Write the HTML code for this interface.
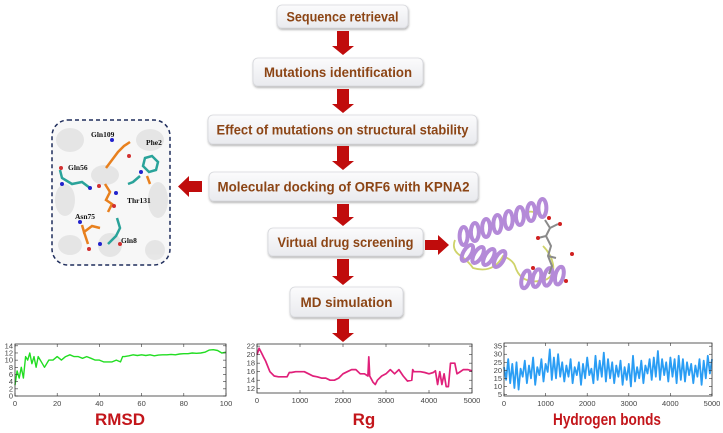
<!DOCTYPE html>
<html><head><meta charset="utf-8"><style>
html,body{margin:0;padding:0;background:#fff;width:723px;height:433px;overflow:hidden}
svg{display:block;font-family:"Liberation Sans",sans-serif}
</style></head><body>
<svg id="root" width="723" height="433" viewBox="0 0 723 433">
<defs>
<linearGradient id="bx" x1="0" y1="0" x2="0" y2="1"><stop offset="0" stop-color="#fbfbfc"/><stop offset="1" stop-color="#e9eaee"/></linearGradient>
<filter id="sh" x="-10%" y="-20%" width="120%" height="160%"><feDropShadow dx="0.5" dy="1.5" stdDeviation="1" flood-color="#000" flood-opacity="0.3"/></filter>
</defs>
<g id="boxes"></g>
<g id="arrows"></g>
<!-- inset docking image -->
<g>
<rect x="52" y="120" width="118" height="145" rx="16" fill="#f7f7f7" stroke="#1f2d5c" stroke-width="1.5" stroke-dasharray="4,3"/>
<g fill="#e4e4e4" opacity="0.9">
<ellipse cx="70" cy="140" rx="14" ry="12"/><ellipse cx="150" cy="140" rx="14" ry="11"/><ellipse cx="65" cy="200" rx="10" ry="16"/>
<ellipse cx="158" cy="200" rx="10" ry="18"/><ellipse cx="110" cy="245" rx="12" ry="12"/><ellipse cx="155" cy="250" rx="10" ry="10"/>
<ellipse cx="70" cy="245" rx="12" ry="10"/><ellipse cx="105" cy="175" rx="14" ry="10"/>
</g>
<g stroke="#e8801e" stroke-width="2.5" fill="none">
<polyline points="106,168 112,160 118,152 124,146 130,142"/><polyline points="150,184 147,176"/>
<polyline points="105,184 110,192 106,200 112,204 108,212"/>
<polyline points="82,225 84,232 92,226 100,228"/><polyline points="84,232 88,244"/>
</g>
<g stroke="#2aa39a" stroke-width="2.5" fill="none">
<polyline points="60,170 62,178 72,184 82,182 90,188"/><polygon points="145,158 152,156 158,162 156,170 149,172 143,166"/>
<polyline points="140,176 133,182 128,184"/><polyline points="117,218 120,228 116,236 108,244"/>
</g>
<g fill="#2222cc"><circle cx="62" cy="184" r="2"/><circle cx="90" cy="188" r="2"/><circle cx="112" cy="140" r="2"/><circle cx="141" cy="172" r="2"/><circle cx="80" cy="222" r="2"/><circle cx="100" cy="244" r="2"/><circle cx="116" cy="193" r="2"/></g>
<g fill="#d13030"><circle cx="61" cy="168" r="2"/><circle cx="99" cy="186" r="2"/><circle cx="129" cy="156" r="2"/><circle cx="114" cy="206" r="2"/><circle cx="89" cy="249" r="2"/><circle cx="120" cy="244" r="2"/></g>
<g font-family="Liberation Serif,serif" font-weight="bold" font-size="7.5" fill="#111">
<text x="91" y="137">Gln109</text><text x="146" y="145">Phe2</text><text x="68" y="170">Gln56</text>
<text x="127" y="203">Thr131</text><text x="75" y="219">Asn75</text><text x="121" y="243">Gln8</text>
</g>
</g>
<!-- protein structure -->
<g>
<g fill="none" stroke="#cfd36a" stroke-width="1.8">
<path d="M527,212 q10,-2 14,6"/><path d="M455,240 q-4,10 6,16 q8,6 12,12 q20,6 30,-12 q10,4 12,10 q6,20 30,14 q10,-4 8,-16 q-2,-10 -10,-18"/>
</g>
<g id="helix" fill="none" stroke="#b48ad8" stroke-width="4"></g>
<g stroke="#8a8a8a" stroke-width="2" fill="none">
<path d="M545,220 l5,8 l-4,8 l5,10 l-3,10 l4,10 l-3,8"/><path d="M550,228 l8,-4 M546,236 l-8,2 M548,256 l8,2"/>
</g>
<g fill="#d02020"><circle cx="549" cy="218" r="2"/><circle cx="560" cy="224" r="2"/><circle cx="538" cy="238" r="2"/><circle cx="572" cy="254" r="2"/><circle cx="533" cy="268" r="2"/><circle cx="566" cy="281" r="2"/></g>
</g>
<g id="charts"></g>
<g font-family="Liberation Sans,sans-serif" font-weight="bold" fill="#c3161b" font-size="17" text-anchor="middle">
<text x="120" y="425">RMSD</text>
<text x="364" y="425">Rg</text>
<text x="607" y="425" textLength="108" lengthAdjust="spacingAndGlyphs">Hydrogen bonds</text>
</g>
</svg>
<script>
const NS="http://www.w3.org/2000/svg";
function mk(tag,attrs,parent){const e=document.createElementNS(NS,tag);for(const k in attrs)e.setAttribute(k,attrs[k]);parent.appendChild(e);return e;}

// helix ribbons (decorative)
const hx=document.getElementById('helix');
function helix(x1,y1,x2,y2,n){
  const ang=Math.atan2(y2-y1,x2-x1)*180/Math.PI;
  for(let i=0;i<n;i++){const t=(i+0.5)/n;mk('ellipse',{cx:x1+(x2-x1)*t,cy:y1+(y2-y1)*t,rx:4,ry:9,transform:`rotate(${ang+20} ${x1+(x2-x1)*t} ${y1+(y2-y1)*t})`},hx);}
}
helix(458,238,548,206,8);
helix(462,252,505,260,4);
helix(520,280,565,275,4);

// flow boxes
const boxLabels=["Sequence retrieval","Mutations identification","Effect of mutations on structural stability","Molecular docking of ORF6 with KPNA2","Virtual drug screening","MD simulation"];
const boxNames=["sequence-retrieval-box","mutations-identification-box","structural-stability-box","molecular-docking-box","virtual-screening-box","md-simulation-box"];
const boxGeom=[[277,5,131,23],[253,58,170,28],[208,115,269,29],[209,172,269,29],[268,228,155,28],[290,287,113,30]];
const textW=[112,148,252,252,136,92];
const bg=document.getElementById('boxes');
boxGeom.forEach((b,i)=>{
  const g=mk('g',{},bg);
  
  
  mk('rect',{x:b[0],y:b[1],width:b[2],height:b[3],rx:5,fill:'url(#bx)',stroke:'#d6d7dc','stroke-width':0.8,filter:'url(#sh)'},g);
  const t=mk('text',{x:b[0]+b[2]/2,y:b[1]+b[3]/2+5,'text-anchor':'middle','font-size':14,'font-weight':'bold',fill:'#8c4515',textLength:textW[i],lengthAdjust:'spacingAndGlyphs'},g);
  t.textContent=boxLabels[i];
});
// arrows
const ag=document.getElementById('arrows');
function down(cx,y1,y2,name){
  const p=mk('path',{d:`M${cx-6},${y1} H${cx+6} V${y2-9} H${cx+11} L${cx},${y2} L${cx-11},${y2-9} H${cx-6} Z`,fill:'#c00c0c'},ag);
  
}
down(343,31,55,'arrow-1');down(343,89,113,'arrow-2');down(343,146,170,'arrow-3');down(343,204,226,'arrow-4');down(343,259,285,'arrow-5');down(343,319,342,'arrow-6');
let p=mk('path',{d:'M202,181 V192 H189 V197 L178,186.5 L189,176 V181 Z',fill:'#c00c0c'},ag);

p=mk('path',{d:'M425,240 V250 H438 V255 L449,245 L438,235 V240 Z',fill:'#c00c0c'},ag);


// chart data
const rmsdX=[0,1,2,3,4,5,6,7,8,9,10,11,12,13,14,16,18,20,22,24,26,28,30,32,34,36,38,40,42,44,46,48,50,51,52,54,56,58,60,62,64,66,68,70,72,74,76,78,80,82,84,86,88,90,92,94,96,98,100];
const rmsdY=[3,7,5,8,5,11,10,12,9,11,8,11,10,9,8,10,10,11,10,11,11.5,11,11,10.5,11,10.5,10,10,9.5,9.5,9.5,10,9.5,11,11,11.2,11.5,11.3,11.5,11.3,11.5,11.2,11.4,11.5,11.5,11.6,11.5,11.7,11.8,11.8,12,11.9,12,12.2,12.8,12.9,12.7,12,12.2];
const rmsdYTicks=[0,2,4,6,8,10,12,14];
const rmsdXTicks=[0,20,40,60,80,100];
const rgX=[0,50,100,150,200,300,400,500,600,700,750,800,900,1000,1100,1200,1300,1400,1500,1600,1700,1800,1900,2000,2100,2200,2300,2400,2500,2580,2600,2620,2700,2750,2800,2900,3000,3100,3200,3300,3400,3500,3600,3620,3650,3700,3800,3900,4000,4100,4150,4200,4250,4300,4350,4400,4450,4500,4600,4650,4700,4800,4900,5000];
const rgY=[20,21.5,20.5,19.5,18.5,16,15,14.8,14.8,14.8,15.8,15.8,16,16,16,15.5,15,14.8,14.5,14.5,14,14,14.5,15.5,16,16.5,16.5,15.5,15.5,15,19.5,15,13.5,13,14,15,15.5,16.5,15.5,16.5,15,13.8,14,16.5,16,16,16,15.8,15.5,15.8,16.2,13,16,13,15.5,12.5,12.5,18,18,15.5,15.8,16.5,16.5,16.2];
const rgYTicks=[12,14,16,18,20,22];
const rgXTicks=[0,1000,2000,3000,4000,5000];
const hbY=[22,14,27,12,24,9,25,8,21,16,26,12,23,15,28,11,22,17,27,13,24,19,33,14,28,15,30,16,25,13,23,16,27,12,22,17,25,11,24,15,28,17,21,12,29,14,26,16,31,13,27,15,25,12,23,16,26,11,22,14,24,10,29,13,22,15,26,12,23,18,27,14,28,16,32,14,27,17,25,13,28,16,27,12,29,14,27,13,25,17,24,12,23,16,27,11,26,15,29,18,27];
const hbYTicks=[5,10,15,20,25,30,35];
const hbXTicks=[0,1000,2000,3000,4000,5000];

const cg=document.getElementById('charts');
function chart(name,box,xmin,xmax,ymin,ymax,xs,ys,color,xt,yt,lw){
  const [x0,y0,w,h]=box;
  const sx=v=>x0+(v-xmin)/(xmax-xmin)*w, sy=v=>y0+h-(v-ymin)/(ymax-ymin)*h;
  const g=mk('g',{},cg);
  
  const pts=xs.map((x,i)=>sx(x).toFixed(1)+','+sy(ys[i]).toFixed(1)).join(' ');
  const line=mk('polyline',{points:pts,fill:'none',stroke:color,'stroke-width':lw,'stroke-linejoin':'round'},g);
  
  mk('rect',{x:x0,y:y0,width:w,height:h,fill:'none',stroke:'#333','stroke-width':0.8},g);
  yt.forEach(v=>{
    mk('line',{x1:x0,x2:x0+3,y1:sy(v),y2:sy(v),stroke:'#333','stroke-width':0.6},g);
    mk('line',{x1:x0+w,x2:x0+w-3,y1:sy(v),y2:sy(v),stroke:'#333','stroke-width':0.6},g);
    const t=mk('text',{x:x0-2,y:sy(v)+2.5,'text-anchor':'end','font-size':7.5,fill:'#444'},g);
    
    t.textContent=v;
  });
  xt.forEach(v=>{
    mk('line',{x1:sx(v),x2:sx(v),y1:y0+h,y2:y0+h-3,stroke:'#333','stroke-width':0.6},g);
    mk('line',{x1:sx(v),x2:sx(v),y1:y0,y2:y0+3,stroke:'#333','stroke-width':0.6},g);
    const t=mk('text',{x:sx(v),y:y0+h+10,'text-anchor':'middle','font-size':7.5,fill:'#444'},g);
    
    t.textContent=v;
  });
}
chart('rmsd-chart',[15,344,211,52],0,100,0,14.5,rmsdX,rmsdY,'#22dd22',rmsdXTicks,rmsdYTicks,1.4);
chart('rg-chart',[257,344,215,49],0,5000,11,22.5,rgX,rgY,'#e0207a',rgXTicks,rgYTicks,1.7);
const hbX=hbY.map((_,i)=>i*50);
chart('hydrogen-bonds-chart',[504,343,208,53],0,5000,4,37,hbX,hbY,'#2a9df4',hbXTicks,hbYTicks,1.8);
</script>
</body></html>
